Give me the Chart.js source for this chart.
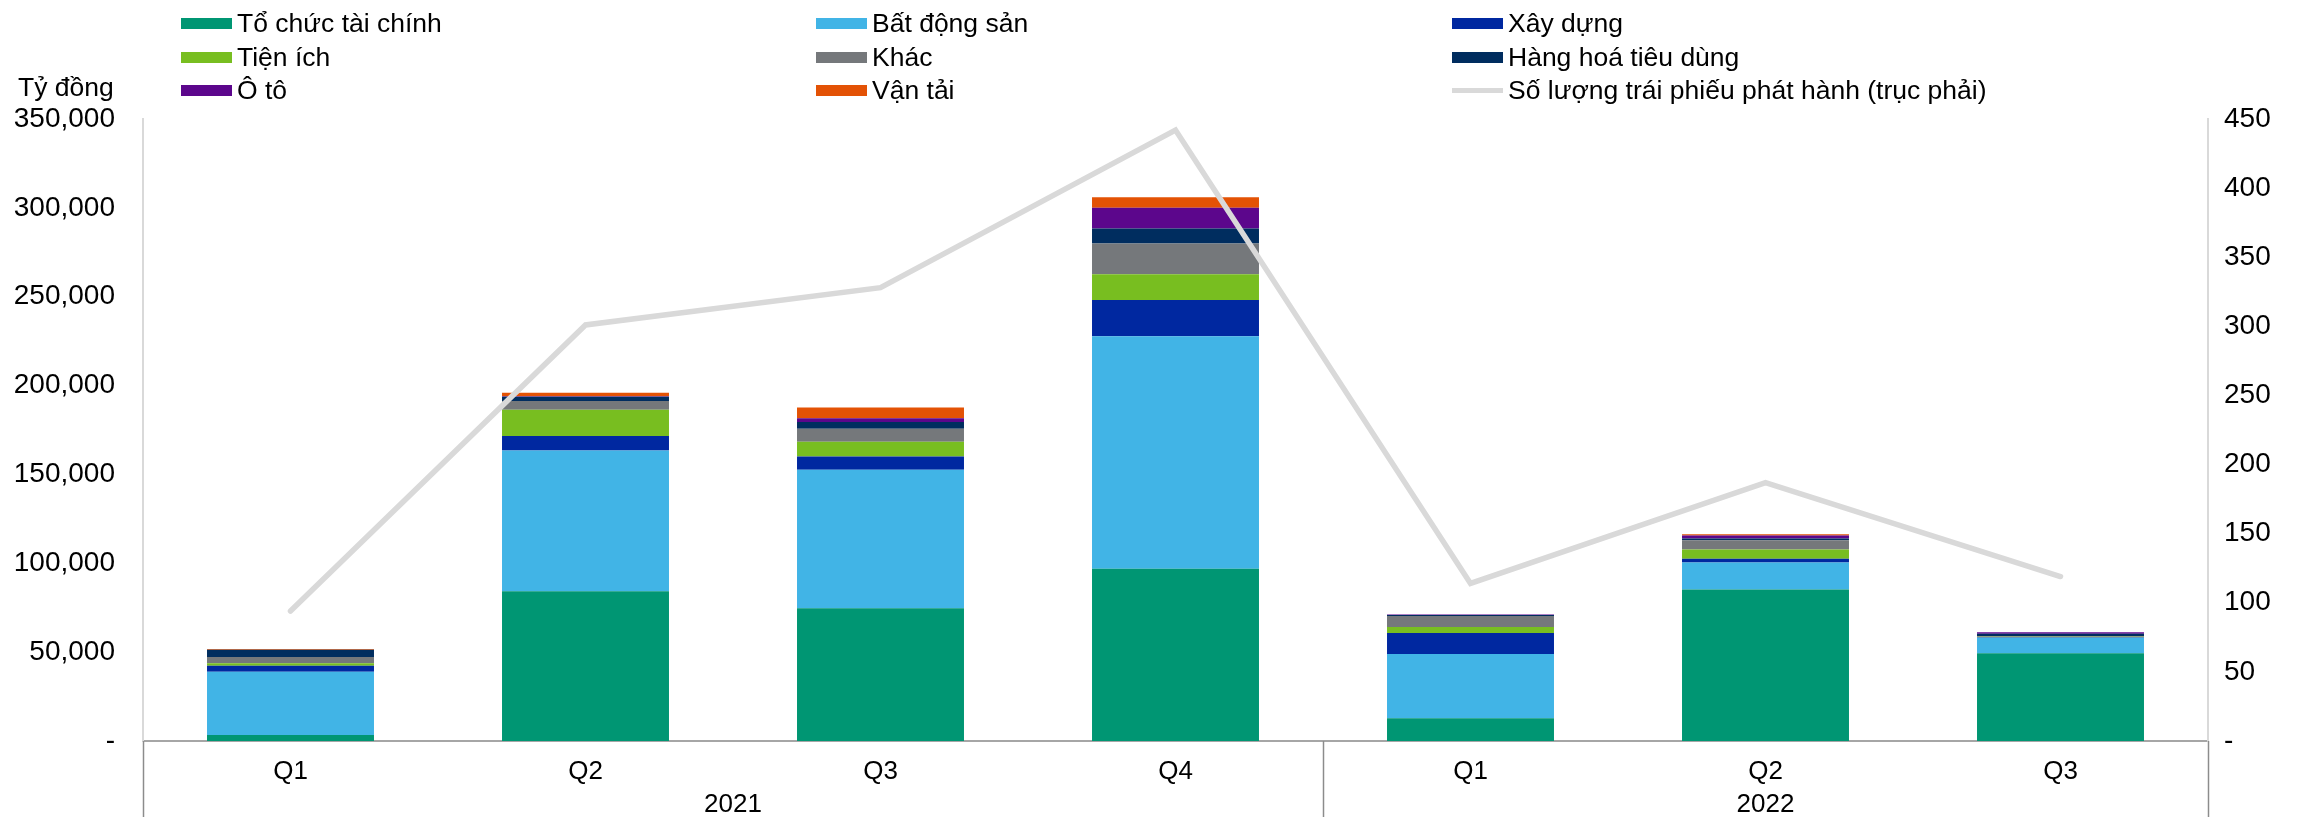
<!DOCTYPE html>
<html>
<head>
<meta charset="utf-8">
<script src="https://cdn.jsdelivr.net/npm/chart.js@4.4.0/dist/chart.umd.min.js"></script>
<style>
  html, body { margin: 0; padding: 0; background: #fff; }
  #wrap { position: relative; width: 2313px; height: 817px; }
  #chart { position: absolute; left: 0; top: 0; }
  .lg { position: absolute; font: 26.5px "Liberation Sans", Arial, sans-serif; color: #000; white-space: nowrap; line-height: 30px; }
  .lg i { display: inline-block; width: 51px; height: 11px; margin-right: 5px; vertical-align: middle; position: relative; top: -2px; }
  .lg i.ln { height: 5px; }
  #unit { position: absolute; left: 18px; top: 72px; font: 26.5px "Liberation Sans", Arial, sans-serif; }
</style>
</head>
<body>
<div id="wrap">
  <canvas id="chart" width="2313" height="817"></canvas>
  <div id="unit">Tỷ đồng</div>
</div>
<script>
  // ---- data (tỷ đồng) ----
  const quarters = ['Q1', 'Q2', 'Q3', 'Q4', 'Q1', 'Q2', 'Q3'];
  const years = [
    { label: '2021', from: 0, to: 3 },
    { label: '2022', from: 4, to: 6 }
  ];

  const taiChinh  = [3400, 84300, 74700, 96900, 12800, 85300, 49400];
  const batDongSan = [35500, 79200, 77900, 130800, 36200, 15200, 8700];
  const xayDung   = [3400, 8100, 7500, 20500, 11800, 2100, 300];
  const tienIch   = [1500, 14800, 8300, 14400, 3400, 5100, 200];
  const khac      = [3400, 4900, 7300, 17400, 6200, 5300, 500];
  const hangHoa   = [4100, 2400, 3800, 8400, 500, 1000, 1300];
  const oTo       = [0, 300, 2100, 11600, 300, 1700, 800];
  const vanTai    = [400, 2000, 6000, 6000, 0, 600, 0];

  const soLuongTP = [94, 301, 328, 442, 114, 187, 119];

  const seriesNames = ['Tổ chức tài chính', 'Bất động sản', 'Xây dựng', 'Tiện ích', 'Khác',
                       'Hàng hoá tiêu dùng', 'Ô tô', 'Vận tải'];
  const seriesData = [taiChinh, batDongSan, xayDung, tienIch, khac, hangHoa, oTo, vanTai];
  const seriesColors = ['#009673', '#41b4e6', '#0028a0', '#78be20', '#75787b',
                        '#002d5f', '#5c068c', '#e35205'];
  const lineName = 'Số lượng trái phiếu phát hành (trục phải)';
  const lineColor = '#d9d9d9';

  const FONT = '"Liberation Sans", Arial, sans-serif';

  // ---- legend (3 columns, filled row by row) ----
  const wrap = document.getElementById('wrap');
  const legendItems = seriesNames.map((n, i) => ({ name: n, color: seriesColors[i], line: false }));
  legendItems.push({ name: lineName, color: lineColor, line: true });
  const colX = [181, 816, 1452];
  const rowY = [8, 42, 75];
  legendItems.forEach((it, i) => {
    const d = document.createElement('div');
    d.className = 'lg';
    d.style.left = colX[i % 3] + 'px';
    d.style.top = rowY[Math.floor(i / 3)] + 'px';
    d.innerHTML = `<i class="${it.line ? 'ln' : ''}" style="background:${it.color}"></i>${it.name}`;
    wrap.appendChild(d);
  });

  const fmt = v => v === 0 ? '-' : v.toLocaleString('en-US');

  // year labels + group separators under the quarter labels
  const yearAxis = {
    id: 'yearAxis',
    afterDraw(chart) {
      const x = chart.scales.x;
      const ctx = chart.ctx;
      const top = chart.chartArea.bottom;
      const half = (x.getPixelForValue(1) - x.getPixelForValue(0)) / 2;
      ctx.save();
      ctx.strokeStyle = '#8c8c8c';
      ctx.lineWidth = 1.5;
      const seps = [x.getPixelForValue(0) - half];
      years.forEach(y => seps.push(x.getPixelForValue(y.to) + half));
      seps.forEach(px => {
        ctx.beginPath();
        ctx.moveTo(Math.round(px) + 0.5, top);
        ctx.lineTo(Math.round(px) + 0.5, 817);
        ctx.stroke();
      });
      ctx.fillStyle = '#000';
      ctx.font = '26px ' + FONT;
      ctx.textAlign = 'center';
      ctx.textBaseline = 'middle';
      years.forEach(y => {
        const cx = (x.getPixelForValue(y.from) + x.getPixelForValue(y.to)) / 2;
        ctx.fillText(y.label, cx, 805);
      });
      ctx.restore();
    }
  };

  const datasets = seriesData.map((d, i) => ({
    type: 'bar',
    label: seriesNames[i],
    data: d,
    backgroundColor: seriesColors[i],
    borderWidth: 0,
    stack: 'nganh',
    yAxisID: 'y',
    order: 1,
    categoryPercentage: 1,
    barPercentage: 0.566
  }));
  datasets.push({
    type: 'line',
    label: lineName,
    data: soLuongTP,
    borderColor: lineColor,
    borderWidth: 5.5,
    borderCapStyle: 'round',
    pointRadius: 0,
    tension: 0,
    fill: false,
    yAxisID: 'y1',
    order: 0
  });

  new Chart(document.getElementById('chart'), {
    data: { labels: quarters, datasets },
    plugins: [yearAxis],
    options: {
      responsive: false,
      animation: false,
      devicePixelRatio: 1,
      layout: { padding: { top: 119, left: 0, right: 0, bottom: 0 } },
      plugins: { legend: { display: false }, tooltip: { enabled: false } },
      scales: {
        x: {
          stacked: true,
          grid: { display: false },
          border: { display: true, color: '#a6a6a6', width: 2 },
          ticks: { color: '#000', font: { family: FONT, size: 26 }, padding: 7 },
          afterFit: s => { s.height = 76; }
        },
        y: {
          stacked: true,
          position: 'left',
          min: 0,
          max: 350000,
          grid: { display: false },
          border: { display: true, color: '#d9d9d9', width: 2 },
          ticks: { stepSize: 50000, color: '#000', font: { family: FONT, size: 28 }, padding: 20, callback: fmt },
          afterFit: s => { s.width = 143; }
        },
        y1: {
          position: 'right',
          min: 0,
          max: 450,
          grid: { display: false },
          border: { display: true, color: '#d9d9d9', width: 2 },
          ticks: { stepSize: 50, color: '#000', font: { family: FONT, size: 28 }, padding: 8, callback: fmt },
          afterFit: s => { s.width = 105; }
        }
      }
    }
  });
</script>
</body>
</html>
